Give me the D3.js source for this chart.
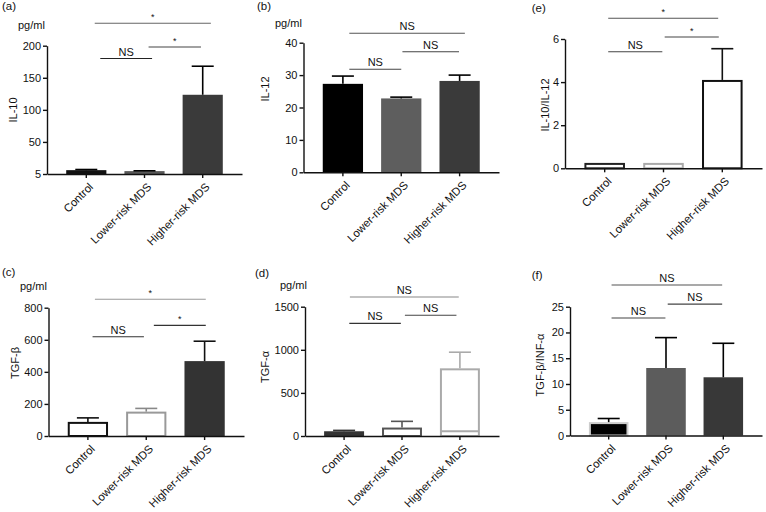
<!DOCTYPE html>
<html><head><meta charset="utf-8">
<script src="https://cdn.jsdelivr.net/npm/d3@7"></script>
<style>
body{margin:0;background:#fff}
svg{display:block;font-family:"Liberation Sans",Arial,Helvetica,sans-serif}
</style>
</head><body><svg id="c" width="766" height="512"></svg>
<script>
// ---------- data ----------
const categories = ["Control", "Lower-risk MDS", "Higher-risk MDS"];

const il10Mean = [6, 4.5, 123.5];
const il10Upper = [7, 5, 168];
const il10Ticks = [0, 50, 100, 150, 200];
const il10TickLabels = ["5", "50", "100", "150", "200"];

const il12Mean = [27.3, 22.8, 28.2];
const il12Upper = [29.7, 23.2, 30.0];
const il12Ticks = [0, 10, 20, 30, 40];

const ratioMean = [0.25, 0.25, 4.1];
const ratioUpper = [0.25, 0.25, 5.55];
const ratioTicks = [0, 2, 4, 6];

const tgfbMean = [88, 152, 467];
const tgfbUpper = [113, 172, 591];
const tgfbTicks = [0, 200, 400, 600, 800];

const tgfaMean = [55, 98, 785];
const tgfaUpper = [65, 170, 972];
const tgfaInner = [null, null, 55];
const tgfaTicks = [0, 500, 1000, 1500];

const tgfRatioMean = [2.6, 13.1, 11.3];
const tgfRatioUpper = [3.3, 19.0, 17.9];
const tgfRatioTicks = [0, 5, 10, 15, 20, 25];

// significance comparisons: [from, to, label]
const sigA = [[0, 2, "*"], [1, 2, "*"], [0, 1, "NS"]];
const sigB = [[0, 2, "NS"], [1, 2, "NS"], [0, 1, "NS"]];
const sigE = [[0, 2, "*"], [1, 2, "*"], [0, 1, "NS"]];
const sigC = [[0, 2, "*"], [1, 2, "*"], [0, 1, "NS"]];
const sigD = [[0, 2, "NS"], [1, 2, "NS"], [0, 1, "NS"]];
const sigF = [[0, 2, "NS"], [1, 2, "NS"], [0, 1, "NS"]];

// ---------- layout / style ----------
const panels = [
  { tag: "(a)", title: "IL-10", unit: "pg/ml", mean: il10Mean, upper: il10Upper, ticks: il10Ticks, tickLabels: il10TickLabels,
    domain: [0, 200], L: 47, R: 242, top: 45.7, bot: 174,
    tagPos: [2, 10], unitPos: [18, 29], titlePos: [16.5, 110],
    fills: ["#111", "#585858", "#3a3a3a"], strokes: [null, null, null], errColors: ["#000", "#000", "#000"],
    sig: sigA, sigY: [235, 198, 180], sigP: [[0.145, 2.14], [1.07, 1.97], [0.24, 1.13]], sigColors: ["#666", "#444", "#222"] },
  { tag: "(b)", title: "IL-12", unit: "pg/ml", mean: il12Mean, upper: il12Upper, ticks: il12Ticks,
    domain: [0, 40], L: 303.5, R: 499, top: 42.7, bot: 172.3,
    tagPos: [257, 10], unitPos: [275, 27], titlePos: [269, 89],
    fills: ["#000", "#5e5e5e", "#3a3a3a"], strokes: [null, null, null], errColors: ["#000", "#000", "#000"],
    sig: sigB, sigY: [42.9, 37.2, 31.8], sigP: [[0.11, 2.09], [1.02, 1.99], [0.11, 1.0]], sigColors: ["#555", "#444", "#444"] },
  { tag: "(e)", title: "IL-10/IL-12", unit: null, mean: ratioMean, upper: ratioUpper, ticks: ratioTicks,
    domain: [0, 6], L: 565, R: 762, top: 39, bot: 168.3,
    tagPos: [531.7, 12], unitPos: null, titlePos: [548.5, 105],
    fills: ["#fff", "#fff", "#fff"], strokes: ["#222", "#aaa", "#111"], errColors: ["#222", "#aaa", "#111"],
    sig: sigE, sigY: [6.96, 6.09, 5.41], sigP: [[0.06, 1.93], [1.02, 1.94], [0.06, 0.98]], sigColors: ["#555", "#444", "#444"] },
  { tag: "(c)", title: "TGF-β", unit: "pg/ml", mean: tgfbMean, upper: tgfbUpper, ticks: tgfbTicks,
    domain: [0, 800], L: 48.5, R: 244, top: 307.7, bot: 436,
    tagPos: [2, 276], unitPos: [20, 289.5], titlePos: [19, 363],
    fills: ["#fff", "#fff", "#333"], strokes: ["#111", "#999", null], errColors: ["#111", "#888", "#111"],
    sig: sigC, sigY: [853, 690, 619], sigP: [[0.12, 2.02], [1.13, 2.02], [0.08, 0.96]], sigColors: ["#999", "#333", "#333"] },
  { tag: "(d)", title: "TGF-α", unit: "pg/ml", mean: tgfaMean, upper: tgfaUpper, inner: tgfaInner, ticks: tgfaTicks,
    domain: [0, 1500], L: 305, R: 499, top: 306.7, bot: 436,
    tagPos: [255, 276.5], unitPos: [280, 289], titlePos: [269, 367],
    fills: ["#333", "#fff", "#fff"], strokes: [null, "#555", "#aaa"], errColors: ["#333", "#555", "#aaa"],
    sig: sigD, sigY: [1612, 1400, 1307], sigP: [[0.1, 1.98], [1.05, 1.94], [0.09, 0.98]], sigColors: ["#888", "#444", "#333"] },
  { tag: "(f)", title: "TGF-β/INF-α", unit: null, mean: tgfRatioMean, upper: tgfRatioUpper, ticks: tgfRatioTicks,
    domain: [0, 25], L: 570, R: 762, top: 306.7, bot: 435.5,
    tagPos: [531.7, 279], unitPos: null, titlePos: [544, 365],
    fills: ["#000", "#5c5c5c", "#383838"], strokes: ["#ccc", null, null], errColors: ["#000", "#000", "#000"],
    sig: sigF, sigY: [29.2, 25.5, 22.8], sigP: [[0.05, 1.98], [1.03, 1.98], [0.05, 0.99]], sigColors: ["#555", "#444", "#444"] }
];

const svg = d3.select("#c");
const FS = 11;

panels.forEach(p => {
  const g = svg.append("g");
  const x = d3.scaleBand().domain(categories).range([p.L, p.R]).paddingInner(0.31).paddingOuter(0.33);
  const y = d3.scaleLinear().domain(p.domain).range([p.bot, p.top]);
  const bw = x.bandwidth();
  const cx = c => x(c) + bw / 2;
  const px = t => cx(categories[0]) + t * x.step();

  // bars
  categories.forEach((c, i) => {
    const sw = p.strokes[i] ? 2 : 0;
    g.append("rect")
      .attr("x", x(c) + sw / 2).attr("width", bw - sw)
      .attr("y", y(p.mean[i]) + sw / 2).attr("height", Math.max(0, y(0) - y(p.mean[i]) - sw / 2))
      .attr("fill", p.fills[i])
      .attr("stroke", p.strokes[i] || "none").attr("stroke-width", sw);
    if (p.inner && p.inner[i] != null) {
      g.append("line").attr("x1", x(c) + 1).attr("x2", x(c) + bw - 1)
        .attr("y1", y(p.inner[i])).attr("y2", y(p.inner[i]))
        .attr("stroke", p.strokes[i]).attr("stroke-width", 2);
    }
    // error bar (upper only)
    if (p.upper[i] > p.mean[i]) {
      const ec = p.errColors[i];
      g.append("line").attr("x1", cx(c)).attr("x2", cx(c))
        .attr("y1", y(p.mean[i])).attr("y2", y(p.upper[i]))
        .attr("stroke", ec).attr("stroke-width", 1.6);
      g.append("line").attr("x1", cx(c) - 11).attr("x2", cx(c) + 11)
        .attr("y1", y(p.upper[i])).attr("y2", y(p.upper[i]))
        .attr("stroke", ec).attr("stroke-width", 1.6);
    }
  });

  // y axis
  const ya = d3.axisLeft(y).tickValues(p.ticks).tickSize(4).tickSizeOuter(0).tickPadding(2)
    .tickFormat((d, i) => p.tickLabels ? p.tickLabels[i] : String(d));
  const yg = g.append("g").attr("transform", `translate(${p.L},0)`).call(ya);
  yg.selectAll("path,line").attr("stroke", "#111").attr("stroke-width", 1.4);
  yg.selectAll("text").attr("font-size", FS).attr("font-family", null).attr("fill", "#111");

  // x axis
  const xa = d3.axisBottom(x).tickSize(4).tickSizeOuter(0);
  const xg = g.append("g").attr("transform", `translate(0,${p.bot})`).call(xa);
  xg.selectAll("path,line").attr("stroke", "#111").attr("stroke-width", 1.4);
  xg.selectAll("text").remove();
  categories.forEach(c => {
    g.append("text").attr("transform", `translate(${cx(c) + 2},${p.bot + 8}) rotate(-45)`)
      .attr("text-anchor", "end").attr("dy", "0.7em").attr("font-size", 11.3).attr("fill", "#111").text(c);
  });

  // significance brackets
  p.sig.forEach((s, k) => {
    const yy = y(p.sigY[k]);
    const x1 = px(p.sigP[k][0]), x2 = px(p.sigP[k][1]);
    g.append("line").attr("x1", x1).attr("x2", x2).attr("y1", yy).attr("y2", yy)
      .attr("stroke", p.sigColors[k]).attr("stroke-width", 1.1);
    const star = s[2] === "*";
    g.append("text").attr("x", (x1 + x2) / 2).attr("y", yy - 3)
      .attr("text-anchor", "middle").attr("font-size", star ? 9 : FS).attr("fill", "#111").text(s[2]);
  });

  // labels
  g.append("text").attr("x", p.tagPos[0]).attr("y", p.tagPos[1]).attr("font-size", 11.5).attr("fill", "#111").text(p.tag);
  if (p.unit) g.append("text").attr("x", p.unitPos[0]).attr("y", p.unitPos[1]).attr("font-size", FS).attr("fill", "#111").text(p.unit);
  g.append("text").attr("transform", `translate(${p.titlePos[0]},${p.titlePos[1]}) rotate(-90)`)
    .attr("text-anchor", "middle").attr("font-size", FS).attr("fill", "#111").text(p.title);
});
</script>
</body></html>
